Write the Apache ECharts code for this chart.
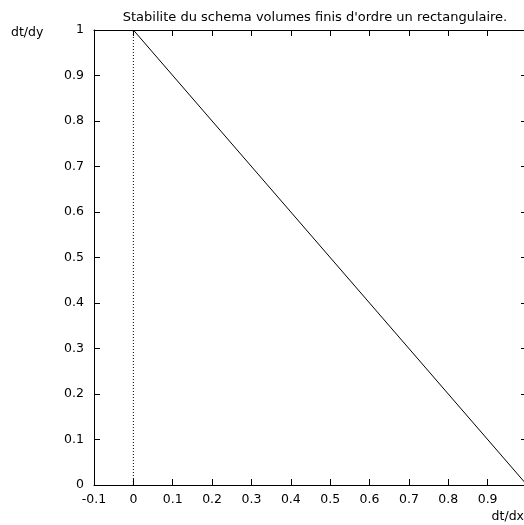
<!DOCTYPE html>
<html>
<head>
<meta charset="utf-8">
<script src="https://cdn.jsdelivr.net/npm/echarts@6/dist/echarts.min.js"></script>
<style>
  html, body { margin: 0; padding: 0; background: #fff; }
  #chart { width: 524px; height: 525px; }
</style>
</head>
<body>
<div id="chart"></div>
<script>
// Stability limit of the first-order finite volume scheme on a rectangular mesh
const titleText = "Stabilite du schema volumes finis d'ordre un rectangulaire.";
const xName = 'dt/dx';
const yName = 'dt/dy';

// Stability boundary: dt/dx + dt/dy = 1
const boundaryX = [0, 1];
const boundaryY = [1, 0];

// x = 0 zero axis
const zeroAxisX = [0, 0];
const zeroAxisY = [0, 1];

const xMin = -0.1, xMax = 1, xStep = 0.1;
const yMin = 0, yMax = 1, yStep = 0.1;

const FONT = '"DejaVu Sans", sans-serif';
const LABEL_SIZE = 12.5;
const fmt = v => String(Math.round(v * 10) / 10);

const chart = echarts.init(document.getElementById('chart'), null, { renderer: 'canvas' });

function axis(pos, min, max, step, labels, margin) {
  return {
    type: 'value', position: pos, min: min, max: max, interval: step,
    z: 5,
    splitLine: { show: false },
    axisLine: { show: true, onZero: false, lineStyle: { color: '#000', width: 1 } },
    axisTick: { show: true, inside: true, length: 6, lineStyle: { color: '#000', width: 1 } },
    axisLabel: labels
      ? { show: true, margin: margin, formatter: fmt, fontFamily: FONT, fontSize: LABEL_SIZE, color: '#000' }
      : { show: false }
  };
}

chart.setOption({
  animation: false,
  backgroundColor: '#fff',
  title: {
    text: titleText,
    left: 310, top: 6, textAlign: 'center',
    textStyle: { fontFamily: FONT, fontSize: 13, fontWeight: 'normal', color: '#000' }
  },
  grid: { left: 94, top: 30, width: 433, height: 455, containLabel: false, outerBoundsMode: 'none' },
  xAxis: [
    axis('bottom', xMin, xMax, xStep, true, 8),
    axis('top', xMin, xMax, xStep, false, 0)
  ],
  yAxis: [
    axis('left', yMin, yMax, yStep, true, 10),
    axis('right', yMin, yMax, yStep, false, 0)
  ],
  graphic: [
    { type: 'text', left: 11, top: 26,
      style: { text: yName, font: LABEL_SIZE + 'px ' + FONT, fill: '#000' } },
    { type: 'text', right: 0, top: 510,
      style: { text: xName, font: LABEL_SIZE + 'px ' + FONT, fill: '#000' } }
  ],
  series: [
    {
      type: 'line', xAxisIndex: 0, yAxisIndex: 0,
      data: zeroAxisX.map((x, i) => [x, zeroAxisY[i]]),
      symbol: 'none', silent: true,
      lineStyle: { color: '#000', width: 1, type: [1, 2] }
    },
    {
      type: 'line', xAxisIndex: 0, yAxisIndex: 0,
      data: boundaryX.map((x, i) => [x, boundaryY[i]]),
      symbol: 'none',
      lineStyle: { color: '#000', width: 1 }
    }
  ]
});
</script>
</body>
</html>
